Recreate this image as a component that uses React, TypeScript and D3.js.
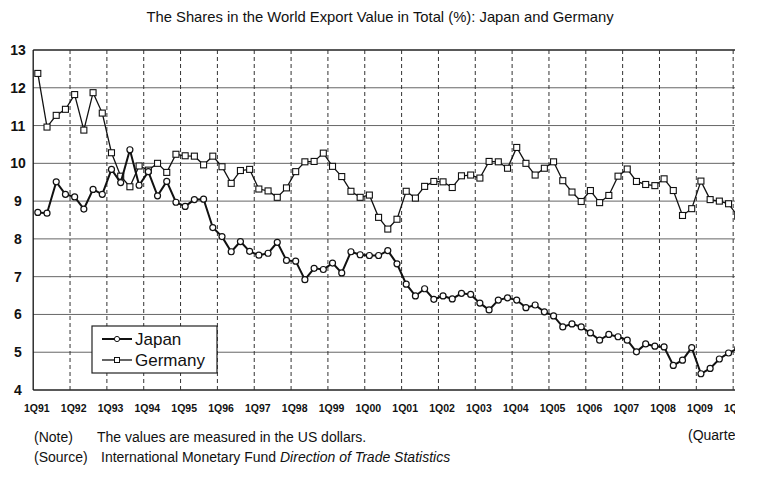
import React, { useEffect, useRef } from "react"
import * as d3 from "d3"

// years shown on the category axis (first quarter of each year gets a label)
const years = ["91", "92", "93", "94", "95", "96", "97", "98", "99", "00", "01", "02", "03", "04", "05", "06", "07", "08", "09", "10"]
const quarters = years.flatMap((y) => ["1", "2", "3", "4"].map((q) => `${q}Q${y}`))
const yTicks = [4, 5, 6, 7, 8, 9, 10, 11, 12, 13]

// share of world exports, %, quarterly from 1Q91
const japan = [
  8.7, 8.68, 9.51, 9.18, 9.11, 8.79, 9.31, 9.18, 9.84, 9.49, 10.36, 9.42, 9.78, 9.14, 9.52, 8.97,
  8.86, 9.04, 9.05, 8.3, 8.06, 7.66, 7.93, 7.67, 7.57, 7.62, 7.91, 7.43, 7.41, 6.92, 7.22, 7.19,
  7.36, 7.1, 7.66, 7.58, 7.56, 7.56, 7.69, 7.34, 6.8, 6.49, 6.68, 6.4, 6.49, 6.41, 6.56, 6.53,
  6.3, 6.12, 6.38, 6.44, 6.38, 6.18, 6.25, 6.07, 5.96, 5.67, 5.75, 5.67, 5.51, 5.32, 5.47, 5.41,
  5.32, 5.01, 5.22, 5.16, 5.14, 4.65, 4.79, 5.12, 4.43, 4.57, 4.82, 4.98, 5.1,
]
const germany = [
  12.38, 10.96, 11.27, 11.43, 11.82, 10.88, 11.87, 11.33, 10.28, 9.66, 9.38, 9.93, 9.82, 10.0, 9.76, 10.24,
  10.2, 10.19, 9.96, 10.19, 9.91, 9.47, 9.81, 9.84, 9.32, 9.27, 9.1, 9.35, 9.78, 10.04, 10.05, 10.27,
  9.92, 9.65, 9.26, 9.1, 9.16, 8.57, 8.26, 8.52, 9.26, 9.08, 9.39, 9.52, 9.51, 9.36, 9.67, 9.69,
  9.61, 10.05, 10.04, 9.87, 10.42, 10.0, 9.69, 9.87, 10.04, 9.54, 9.24, 8.99, 9.28, 8.96, 9.15, 9.66,
  9.85, 9.52, 9.44, 9.41, 9.59, 9.28, 8.62, 8.8, 9.53, 9.04, 9.0, 8.93, 8.6,
]

const W = 758
const H = 477
const FONT = "Arial, 'Liberation Sans', sans-serif"

const App = () => {
  const ref = useRef<SVGSVGElement | null>(null)

  useEffect(() => {
    const svg = d3.select(ref.current)
    svg.selectAll("*").remove()

    // the scan is cut off at the right
    svg.append("defs").append("clipPath").attr("id", "crop")
      .append("rect").attr("x", 0).attr("y", 0).attr("width", 735).attr("height", H)

    const g = svg.append("g").attr("clip-path", "url(#crop)")

    const left = 33.2
    const qw = 9.21
    const x = d3.scaleBand<string>().domain(quarters).range([left, left + qw * quarters.length]).padding(0)
    const cx = (i: number) => x(quarters[i])! + x.bandwidth() / 2
    const y = d3.scaleLinear().domain([4, 13]).range([390, 50])
    const right = 760

    // horizontal grid
    g.append("g")
      .selectAll("line")
      .data(yTicks)
      .join("line")
      .attr("x1", left)
      .attr("x2", right)
      .attr("y1", (d) => y(d))
      .attr("y2", (d) => y(d))
      .attr("stroke", (d) => (d === 4 || d === 13 ? "#222" : "#666"))
      .attr("stroke-width", (d) => (d === 4 || d === 13 ? 1.3 : 1))

    // dashed year separators
    g.append("g")
      .selectAll("line")
      .data(years.slice(1))
      .join("line")
      .attr("x1", (d) => x(`1Q${d}`)!)
      .attr("x2", (d) => x(`1Q${d}`)!)
      .attr("y1", y(13))
      .attr("y2", y(4))
      .attr("stroke", "#333")
      .attr("stroke-width", 1)
      .attr("stroke-dasharray", "4,3")

    // left axis line
    g.append("line")
      .attr("x1", left).attr("x2", left)
      .attr("y1", y(13)).attr("y2", y(4))
      .attr("stroke", "#111").attr("stroke-width", 1.3)

    // y labels
    g.append("g")
      .selectAll("text")
      .data(yTicks)
      .join("text")
      .attr("x", 18)
      .attr("y", (d) => y(d) + 5)
      .attr("text-anchor", "middle")
      .attr("font-family", FONT)
      .attr("font-size", 14)
      .attr("font-weight", "bold")
      .attr("fill", "#111")
      .text((d) => d)

    // x labels
    g.append("g")
      .selectAll("text")
      .data(years)
      .join("text")
      .attr("x", (d) => x(`1Q${d}`)! + x.bandwidth() / 2 - 1)
      .attr("y", 412)
      .attr("text-anchor", "middle")
      .attr("font-family", FONT)
      .attr("font-size", 10.5)
      .attr("font-weight", "bold")
      .attr("fill", "#111")
      .text((d) => `1Q${d}`)

    const line = d3.line<number>().x((d, i) => cx(i)).y((d) => y(d))

    // Germany
    g.append("path")
      .datum(germany)
      .attr("d", line)
      .attr("fill", "none")
      .attr("stroke", "#111")
      .attr("stroke-width", 1.3)
    g.append("g")
      .selectAll("rect")
      .data(germany)
      .join("rect")
      .attr("x", (d, i) => cx(i) - 3)
      .attr("y", (d) => y(d) - 3)
      .attr("width", 6)
      .attr("height", 6)
      .attr("fill", "#fff")
      .attr("stroke", "#111")
      .attr("stroke-width", 1.1)

    // Japan
    g.append("path")
      .datum(japan)
      .attr("d", line)
      .attr("fill", "none")
      .attr("stroke", "#111")
      .attr("stroke-width", 2)
    g.append("g")
      .selectAll("circle")
      .data(japan)
      .join("circle")
      .attr("cx", (d, i) => cx(i))
      .attr("cy", (d) => y(d))
      .attr("r", 3)
      .attr("fill", "#fff")
      .attr("stroke", "#111")
      .attr("stroke-width", 1.2)

    // legend
    const lg = g.append("g").attr("transform", "translate(92,326)")
    lg.append("rect").attr("width", 125).attr("height", 47).attr("fill", "#fff").attr("stroke", "#222").attr("stroke-width", 1.2)
    const entries = [
      { name: "Japan", mark: "circle", w: 2 },
      { name: "Germany", mark: "square", w: 1.3 },
    ]
    entries.forEach((e, k) => {
      const ly = 13 + k * 21
      lg.append("line").attr("x1", 10).attr("x2", 40).attr("y1", ly).attr("y2", ly).attr("stroke", "#111").attr("stroke-width", e.w)
      if (e.mark === "circle") {
        lg.append("circle").attr("cx", 25).attr("cy", ly).attr("r", 2.6).attr("fill", "#fff").attr("stroke", "#111")
      } else {
        lg.append("rect").attr("x", 22.5).attr("y", ly - 2.5).attr("width", 5).attr("height", 5).attr("fill", "#fff").attr("stroke", "#111")
      }
      lg.append("text").attr("x", 43).attr("y", ly + 6).attr("font-family", FONT).attr("font-size", 17).attr("fill", "#111").text(e.name)
    })

    // title and notes
    g.append("text").attr("x", 380).attr("y", 22).attr("text-anchor", "middle")
      .attr("font-family", FONT).attr("font-size", 14.8).attr("fill", "#111")
      .text("The Shares in the World Export Value in Total (%): Japan and Germany")

    g.append("text").attr("x", 688).attr("y", 440).attr("font-family", FONT).attr("font-size", 14).attr("fill", "#111").text("(Quarter)")

    const notes = g.append("g").attr("font-family", FONT).attr("font-size", 14).attr("fill", "#111")
    notes.append("text").attr("x", 34).attr("y", 442).text("(Note)")
    notes.append("text").attr("x", 97).attr("y", 442).text("The values are measured in the US dollars.")
    notes.append("text").attr("x", 34).attr("y", 462).text("(Source)")
    const src = notes.append("text").attr("x", 101).attr("y", 462)
    src.append("tspan").text("International Monetary Fund  ")
    src.append("tspan").attr("font-style", "italic").text("Direction of Trade Statistics")
  }, [])

  return (
    <svg
      ref={ref}
      width={W}
      height={H}
      style={{ position: "absolute", left: 0, top: 0, background: "#fff" }}
    ></svg>
  )
}

export default App
